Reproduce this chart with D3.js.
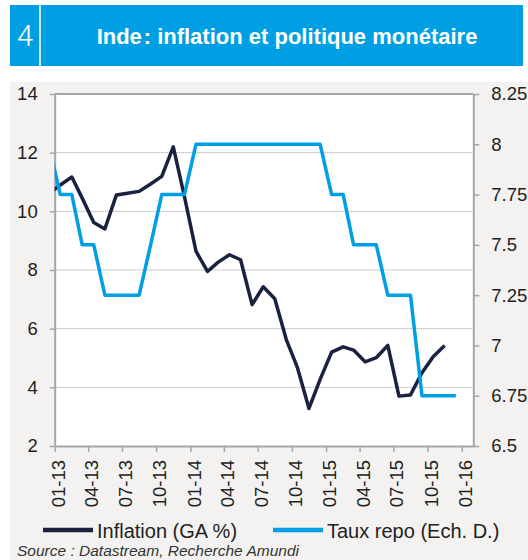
<!DOCTYPE html>
<html>
<head>
<meta charset="utf-8">
<script src="https://cdn.jsdelivr.net/npm/d3@7"></script>
<style>
  body { margin: 0; background: #fff; }
  svg { display: block; font-family: "Liberation Sans", Arial, sans-serif; }
</style>
</head>
<body>
<svg id="chart" width="528" height="560"></svg>
<script>
// monthly data, Dec 2012 -> Dec 2015 (first month is clipped by the plot)
var months = ["2012-12","2013-01","2013-02","2013-03","2013-04","2013-05","2013-06","2013-07","2013-08","2013-09","2013-10","2013-11","2013-12",
  "2014-01","2014-02","2014-03","2014-04","2014-05","2014-06","2014-07","2014-08","2014-09","2014-10","2014-11","2014-12",
  "2015-01","2015-02","2015-03","2015-04","2015-05","2015-06","2015-07","2015-08","2015-09","2015-10","2015-11","2015-12"];
var inflation = [10.6, 10.9, 11.17, 10.45, 9.62, 9.4, 10.56, 10.62, 10.68, 10.93, 11.19, 12.2, 10.5,
  8.64, 7.95, 8.26, 8.52, 8.35, 6.82, 7.43, 7.02, 5.63, 4.67, 3.28, 4.27,
  5.2, 5.38, 5.27, 4.87, 5.01, 5.43, 3.7, 3.74, 4.5, 5.04, 5.43];
var repo = [8, 7.75, 7.75, 7.5, 7.5, 7.25, 7.25, 7.25, 7.25, 7.5, 7.75, 7.75, 7.75,
  8, 8, 8, 8, 8, 8, 8, 8, 8, 8, 8, 8,
  7.75, 7.75, 7.5, 7.5, 7.5, 7.25, 7.25, 7.25, 6.75, 6.75, 6.75, 6.75];
var leftTicks = [2, 4, 6, 8, 10, 12, 14];
var rightTicks = [6.5, 6.75, 7, 7.25, 7.5, 7.75, 8, 8.25];
var seriesNames = ["Inflation (GA %)", "Taux repo (Ech. D.)"];

var width = 528, height = 560;
var plot = {left: 54.7, right: 473.3, top: 94, bottom: 446};
var navy = "#1b2240", blue = "#009fe3";

var parse = d3.timeParse("%Y-%m");
var mid = m => d3.timeDay.offset(parse(m), 15);

var x = d3.scaleTime()
  .domain([parse("2013-01"), parse("2016-02")])
  .range([plot.left, plot.right]);
var yL = d3.scaleLinear().domain([2, 14]).range([plot.bottom, plot.top]);
var yR = d3.scaleLinear().domain([6.5, 8.25]).range([plot.bottom, plot.top]);

const svg = d3.select("#chart");

// header
svg.append("rect").attr("x", 10).attr("y", 5).attr("width", 513).attr("height", 61).attr("fill", blue);
svg.append("line").attr("x1", 40).attr("x2", 40).attr("y1", 5).attr("y2", 66)
  .attr("stroke", "#fff").attr("stroke-width", 1.5);
svg.append("text").attr("x", 25).attr("y", 46).attr("text-anchor", "middle")
  .attr("font-family", "Roboto, 'Liberation Sans', sans-serif").attr("font-weight", 300)
  .attr("font-size", 29).attr("fill", "#fff").text("4");
svg.append("text").attr("x", 287).attr("y", 43.5).attr("text-anchor", "middle")
  .attr("font-weight", "bold").attr("font-size", 22).attr("fill", "#fff")
  .text("Inde\u200A: inflation et politique monétaire");

// chart background
svg.append("rect").attr("x", 10).attr("y", 82).attr("width", width - 10).attr("height", height - 82).attr("fill", "#f3f2f0");
svg.append("rect").attr("x", plot.left).attr("y", plot.top)
  .attr("width", plot.right - plot.left).attr("height", plot.bottom - plot.top).attr("fill", "#fff");

// grid
svg.append("g").selectAll("line")
  .data(leftTicks.filter(d => d > 2 && d < 14))
  .join("line")
  .attr("x1", plot.left).attr("x2", plot.right)
  .attr("y1", d => yL(d)).attr("y2", d => yL(d))
  .attr("stroke", "#999").attr("stroke-width", 1).attr("stroke-dasharray", "1,1");

svg.append("line").attr("x1", plot.left).attr("x2", plot.right)
  .attr("y1", plot.top).attr("y2", plot.top).attr("stroke", "#a6a6a6").attr("stroke-width", 2);

var styleAxis = g => {
  g.select(".domain").attr("stroke", "#a6a6a6").attr("stroke-width", 2);
  g.selectAll(".tick line").attr("stroke", "#a6a6a6").attr("stroke-width", 1.5);
  g.selectAll(".tick text").attr("fill", "#222").attr("font-size", 18.5)
    .attr("font-family", "'Liberation Sans', Arial, sans-serif");
};

svg.append("g").attr("transform", `translate(${plot.left},0)`)
  .call(d3.axisLeft(yL).tickValues(leftTicks).tickSize(5).tickPadding(12).tickSizeOuter(0))
  .call(styleAxis);

svg.append("g").attr("transform", `translate(${plot.right},0)`)
  .call(d3.axisRight(yR).tickValues(rightTicks).tickFormat(d => String(d)).tickSize(6).tickPadding(12).tickSizeOuter(0))
  .call(styleAxis);

svg.append("g").attr("transform", `translate(0,${plot.bottom})`)
  .call(d3.axisBottom(x).ticks(d3.timeMonth.every(3)).tickFormat(d3.timeFormat("%m-%y")).tickSize(6).tickSizeOuter(0))
  .call(styleAxis)
  .call(g => g.selectAll(".tick text")
    .attr("font-size", 18.5)
    .attr("transform", "rotate(-90)")
    .attr("text-anchor", "end")
    .attr("x", -14).attr("y", 0).attr("dy", "0.52em"));

// lines
svg.append("clipPath").attr("id", "clip")
  .append("rect").attr("x", plot.left).attr("y", plot.top)
  .attr("width", plot.right - plot.left).attr("height", plot.bottom - plot.top);

var lineL = d3.line().x((d, i) => x(mid(months[i]))).y(d => yL(d));
var lineR = d3.line().x((d, i) => x(mid(months[i]))).y(d => yR(d));

const lines = svg.append("g").attr("clip-path", "url(#clip)")
  .attr("fill", "none").attr("stroke-width", 3.5).attr("stroke-linejoin", "round");
lines.append("path").attr("d", lineL(inflation)).attr("stroke", navy);
lines.append("path").attr("d", lineR(repo)).attr("stroke", blue);

// legend
var legendX = [43, 273];
const legend = svg.append("g").selectAll("g")
  .data(seriesNames)
  .join("g")
  .attr("transform", (d, i) => `translate(${legendX[i]},530)`);
legend.append("line").attr("x1", 0).attr("x2", 50)
  .attr("stroke", (d, i) => i ? blue : navy).attr("stroke-width", 4.5);
legend.append("text").attr("x", 54).attr("y", 7.5).attr("font-size", 20).attr("fill", "#222").text(d => d);

svg.append("text").attr("x", 17).attr("y", 555.5).attr("font-size", 15.5).attr("font-style", "italic")
  .attr("fill", "#333").text("Source : Datastream, Recherche Amundi");
</script>
</body>
</html>
